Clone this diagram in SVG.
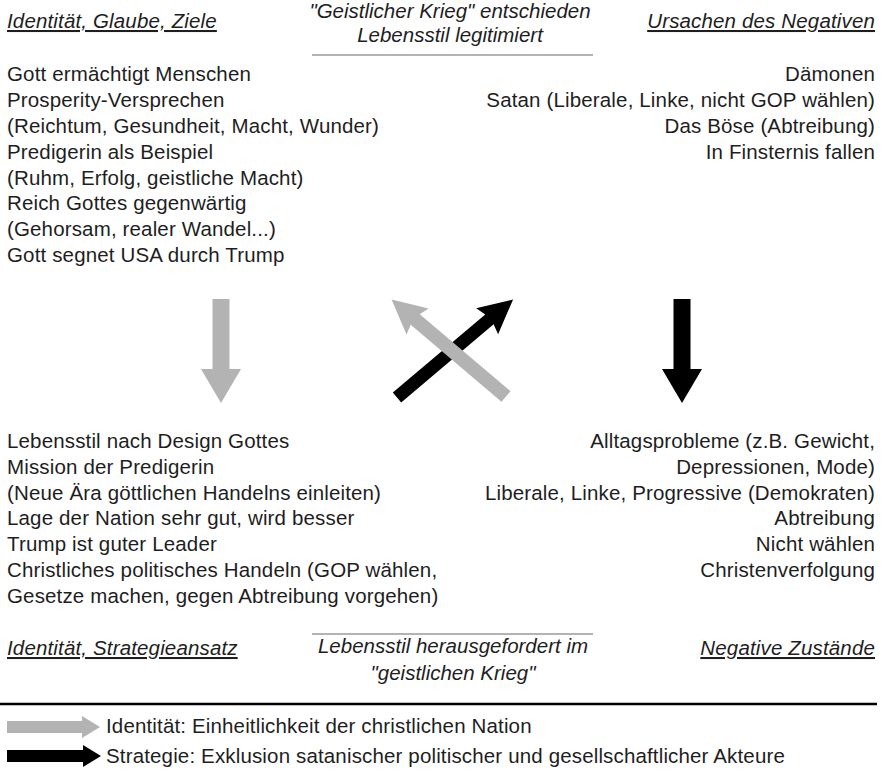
<svg xmlns="http://www.w3.org/2000/svg" width="882" height="771" viewBox="0 0 882 771">
  <style>
    text { font-family: "Liberation Sans", Arial, sans-serif; fill: #1e1e1e; font-size: 20.5px; letter-spacing: 0.15px; }
    .head { font-style: italic; text-decoration: underline; }
    .center { font-style: italic; text-anchor: middle; letter-spacing: 0; }
    .right { text-anchor: end; }
    .rule { stroke: #b3b3b3; stroke-width: 2; }
    .gray { fill: #b3b3b3; }
    .black { fill: #000; }
  </style>
  <defs>
    <!-- vertical arrow pointing down, origin at top of shaft -->
    <polygon id="down-arrow" points="-8.5,0 8.5,0 8.5,70 20,70 0,104 -20,70 -8.5,70"/>
  </defs>

  <rect width="882" height="771" fill="#fff"/>

  <!-- top left: identity, faith, goals -->
  <g id="identity-faith">
    <text class="head" x="7" y="28">Identität, Glaube, Ziele</text>
    <text x="7" y="81">Gott ermächtigt Menschen</text>
    <text x="7" y="107">Prosperity-Versprechen</text>
    <text x="7" y="133">(Reichtum, Gesundheit, Macht, Wunder)</text>
    <text x="7" y="159">Predigerin als Beispiel</text>
    <text x="7" y="185">(Ruhm, Erfolg, geistliche Macht)</text>
    <text x="7" y="210">Reich Gottes gegenwärtig</text>
    <text x="7" y="236">(Gehorsam, realer Wandel...)</text>
    <text x="7" y="262">Gott segnet USA durch Trump</text>
  </g>

  <!-- top centre -->
  <g id="war-decided">
    <text class="center" x="450" y="18">"Geistlicher Krieg" entschieden</text>
    <text class="center" x="450" y="42">Lebensstil legitimiert</text>
    <line class="rule" x1="312" y1="55" x2="593" y2="55"/>
  </g>

  <!-- top right: causes -->
  <g id="causes">
    <text class="head right" x="875" y="28">Ursachen des Negativen</text>
    <text class="right" x="875" y="81">Dämonen</text>
    <text class="right" x="875" y="107">Satan (Liberale, Linke, nicht GOP wählen)</text>
    <text class="right" x="875" y="133">Das Böse (Abtreibung)</text>
    <text class="right" x="875" y="159">In Finsternis fallen</text>
  </g>

  <!-- bottom left: identity, strategy -->
  <g id="identity-strategy">
    <text x="7" y="448">Lebensstil nach Design Gottes</text>
    <text x="7" y="474">Mission der Predigerin</text>
    <text x="7" y="500">(Neue Ära göttlichen Handelns einleiten)</text>
    <text x="7" y="525">Lage der Nation sehr gut, wird besser</text>
    <text x="7" y="551">Trump ist guter Leader</text>
    <text x="7" y="577">Christliches politisches Handeln (GOP wählen,</text>
    <text x="7" y="603">Gesetze machen, gegen Abtreibung vorgehen)</text>
    <text class="head" x="7" y="655">Identität, Strategieansatz</text>
  </g>

  <!-- bottom centre -->
  <g id="war-challenged">
    <line class="rule" x1="312" y1="634" x2="593" y2="634"/>
    <text class="center" x="453" y="653">Lebensstil herausgefordert im</text>
    <text class="center" x="453" y="680">"geistlichen Krieg"</text>
  </g>

  <!-- bottom right: negative states -->
  <g id="negative-states">
    <text class="right" x="875" y="448">Alltagsprobleme (z.B. Gewicht,</text>
    <text class="right" x="875" y="474">Depressionen, Mode)</text>
    <text class="right" x="875" y="500">Liberale, Linke, Progressive (Demokraten)</text>
    <text class="right" x="875" y="525">Abtreibung</text>
    <text class="right" x="875" y="551">Nicht wählen</text>
    <text class="right" x="875" y="577">Christenverfolgung</text>
    <text class="head right" x="875" y="655">Negative Zustände</text>
  </g>

  <!-- connectors -->
  <g id="connectors">
    <use href="#down-arrow" class="gray" x="221" y="299"/>
    <use href="#down-arrow" class="black" x="682" y="299"/>
    <!-- strategy: lower left to upper right -->
    <polygon class="black" transform="translate(397,397.5) rotate(-40.2)"
             points="0,-6.5 121,-6.5 118,-17 152,0 118,17 121,6.5 0,6.5"/>
    <!-- identity: lower right to upper left, drawn on top -->
    <polygon class="gray" transform="translate(506,396.5) rotate(-139.7)"
             points="0,-7 119,-7 116,-17 150,0 116,17 119,7 0,7"/>
  </g>

  <!-- legend -->
  <g id="legend">
    <line x1="0" y1="704" x2="877" y2="704" stroke="#000" stroke-width="2.5"/>
    <polygon class="gray" points="7,721 82,721 82,716 100,727 82,738 82,733 7,733"/>
    <text x="106" y="733">Identität: Einheitlichkeit der christlichen Nation</text>
    <polygon class="black" points="7,750 83,750 83,745 101,756 83,767 83,762 7,762"/>
    <text x="106" y="763">Strategie: Exklusion satanischer politischer und gesellschaftlicher Akteure</text>
  </g>
</svg>
